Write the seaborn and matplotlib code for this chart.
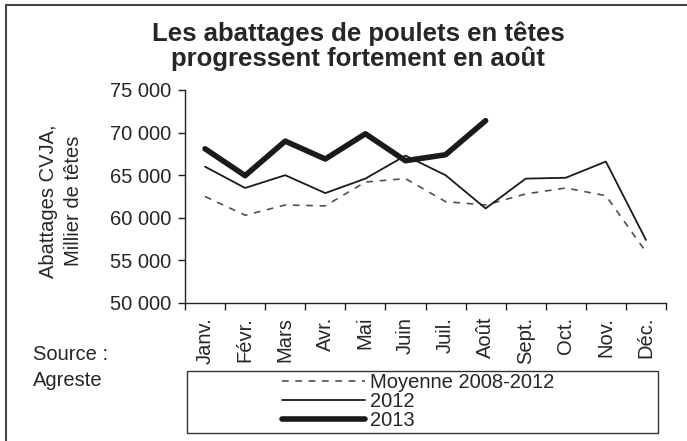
import numpy as np
import pandas as pd
import matplotlib
matplotlib.use("Agg")
import matplotlib.pyplot as plt
import matplotlib.patches as patches
import matplotlib.ticker as mticker
import seaborn as sns

# Monthly data (thousand heads)
mois = ["Janv.", "Févr.", "Mars", "Avr.", "Mai", "Juin", "Juil.", "Août",
        "Sept.", "Oct.", "Nov.", "Déc."]
moyenne_2008_2012 = [62500, 60300, 61500, 61400, 64200, 64600, 61900, 61500,
                     62800, 63500, 62600, 56000]
annee_2012 = [66000, 63500, 65000, 62900, 64600, 67300, 65000, 61100,
              64600, 64700, 66600, 57400]
annee_2013 = [68100, 64950, 69000, 66900, 69860, 66700, 67400, 71400]

sns.set_style("white")
plt.rcParams["font.family"] = ["Liberation Sans", "DejaVu Sans"]
FS = 14.5

W, H = 687, 441
fig = plt.figure(figsize=(W / 100, H / 100), dpi=100)
ax = fig.add_axes([185 / W, 1 - 303 / H, (666 - 185) / W, (303 - 90) / H])

x_all = np.arange(len(mois))
sns.lineplot(x=x_all, y=moyenne_2008_2012, ax=ax, color="#505050", lw=1.2,
             linestyle=(0, (4, 4)), label="Moyenne 2008-2012")
sns.lineplot(x=x_all, y=annee_2012, ax=ax, color="#1a1a1a", lw=1.3, label="2012")
sns.lineplot(x=x_all[:len(annee_2013)], y=annee_2013, ax=ax, color="#1a1a1a",
             lw=4.0, solid_capstyle="round", label="2013")

ax.set_xlim(-0.5, 11.5)
ax.set_ylim(50000, 75000)
ax.set_yticks(np.arange(50000, 75001, 5000))
ax.yaxis.set_major_formatter(mticker.FuncFormatter(lambda v, p: f"{int(v):,}".replace(",", " ")))
ax.set_xticks(x_all)
ax.set_xticklabels(mois, rotation=90)
ax.set_xticks(np.arange(-0.5, 12, 1), minor=True)
ax.tick_params(axis="x", which="major", length=0, pad=10, labelsize=FS)
ax.tick_params(axis="x", which="minor", length=5, width=1, color="#222", direction="out", bottom=True)
ax.tick_params(axis="y", length=5, width=1, color="#222", direction="out", left=True,
               pad=5, labelsize=FS)
ax.set_xlabel("")
ax.set_ylabel("")
for s in ["top", "right"]:
    ax.spines[s].set_visible(False)
for s in ["left", "bottom"]:
    ax.spines[s].set_color("#222")
    ax.spines[s].set_linewidth(1)

# legend without frame, box drawn separately
handles, labels = ax.get_legend_handles_labels()
ax.legend(handles, labels, loc="upper left", bbox_to_anchor=(282 / W, 1 - 373 / H),
          bbox_transform=fig.transFigure, frameon=False, fontsize=FS,
          handlelength=4.1, handletextpad=0.25, labelspacing=0.0, borderpad=0,
          borderaxespad=0)
fig.patches.append(patches.Rectangle((187 / W, 1 - 433 / H), (658 - 187) / W, (433 - 371) / H,
                                     transform=fig.transFigure, fill=False,
                                     edgecolor="#333", lw=1))
# outer frame
fig.patches.append(patches.Rectangle((6 / W, -0.1), 1.2, 1 - 5 / H + 0.1,
                                     transform=fig.transFigure, fill=False,
                                     edgecolor="#444", lw=1.5))

fig.text(358 / W, 1 - 46 / H, "Les abattages de poulets en têtes\nprogressent fortement en août",
         ha="center", va="center", fontsize=18.5, fontweight="bold", linespacing=1.05)
fig.text(61 / W, 1 - 201 / H, "Abattages CVJA,\nMillier de têtes", rotation=90,
         ha="center", va="center", fontsize=FS, linespacing=1.4)
fig.text(33 / W, 1 - 355 / H, "Source :", ha="left", va="center", fontsize=FS)
fig.text(33 / W, 1 - 381 / H, "Agreste", ha="left", va="center", fontsize=FS)

fig.savefig("out.png", dpi=100)
